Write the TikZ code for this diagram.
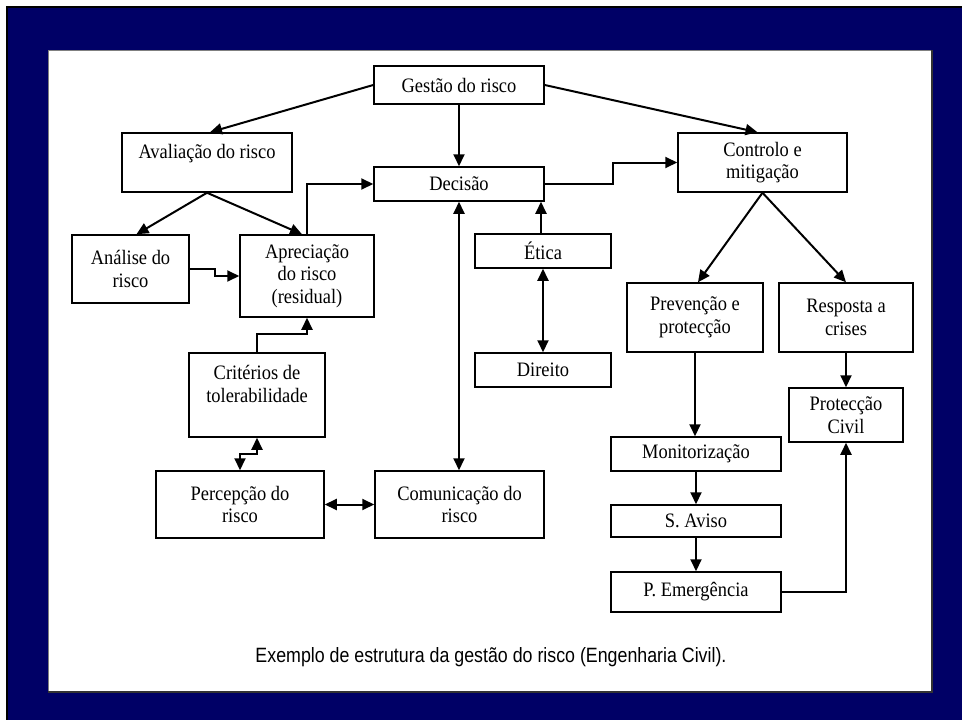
\documentclass[tikz,border=0pt]{standalone}
\usepackage{fontspec}
\setmainfont{Liberation Serif}[FakeStretch=0.9]
\newfontfamily\capfont{Liberation Sans}[FakeStretch=0.86]
\usetikzlibrary{arrows.meta,calc}
\definecolor{navy}{RGB}{0,0,102}
\begin{document}
\begin{tikzpicture}[x=1pt,y=-1pt,
 box/.style={draw=black, line width=1.5pt, fill=white, inner sep=0pt, align=center, font=\fontsize{20.5}{22.5}\selectfont},
 arr/.style={line width=2pt, -{Triangle[length=12pt,width=11pt]}},
 darr/.style={line width=2pt, {Triangle[length=12pt,width=11pt]}-{Triangle[length=12pt,width=11pt]}}]
% background
\fill[white] (0,0) rectangle (962,720);
\fill[black] (6,6) rectangle (962,720);
\fill[navy] (8,8) rectangle (962,720);
\fill[white] (48,50) rectangle (932,692);
\draw[gray, line width=1pt] (48,692) -- (48,50) -- (932,50);
\draw[black!80, line width=1.5pt] (932,50) -- (932,692) -- (48,692);
\useasboundingbox (0,0) rectangle (962,720);
% nodes
\node[box, minimum width=170pt, minimum height=38pt] (ges) at (459,85) {Gestão do risco};
\node[box, minimum width=170pt, minimum height=59pt] (ava) at (207,162.5) {Avaliação do risco\\\mbox{}};
\node[box, minimum width=170pt, minimum height=34pt] (dec) at (459,184) {Decisão};
\node[box, minimum width=117pt, minimum height=68pt] (ana) at (130.5,269) {Análise do\\risco};
\node[box, minimum width=134pt, minimum height=82pt] (apr) at (307,276) {Apreciação\\do risco\\(residual)};
\node[box, minimum width=136pt, minimum height=84pt] (cri) at (257,395) {Critérios de\\tolerabilidade\\\mbox{}};
\node[box, minimum width=168pt, minimum height=67pt] (per) at (240,504.5) {Percepção do\\risco};
\node[box, minimum width=169pt, minimum height=67pt] (com) at (459.5,504.5) {Comunicação do\\risco};
\node[box, minimum width=136pt, minimum height=34pt] (eti) at (543,251) {Ética};
\node[box, minimum width=136pt, minimum height=34pt] (dir) at (543,370) {Direito};
\node[box, minimum width=169pt, minimum height=59pt] (con) at (762.5,162.5) {Controlo e\\mitigação};
\node[box, minimum width=136pt, minimum height=69pt] (pre) at (695,317.5) {Prevenção e\\protecção};
\node[box, minimum width=134pt, minimum height=69pt] (res) at (846,317.5) {Resposta a\\crises};
\node[box, minimum width=170pt, minimum height=34pt] (mon) at (696,454) {Monitorização};
\node[box, minimum width=170pt, minimum height=32pt] (sav) at (696,521) {S. Aviso};
\node[box, minimum width=170pt, minimum height=40pt] (pem) at (696,592) {P. Emergência};
\node[box, minimum width=114pt, minimum height=54pt] (pci) at (846,415) {Protecção\\Civil};
\node[font=\capfont\fontsize{20.7}{22}\selectfont] (cap) at (491,657) {Exemplo de estrutura da gestão do risco (Engenharia Civil).};
% connectors
\draw[arr] (ges.west) -- ([xshift=3pt]ava.north);
\draw[arr] (ges.south) -- (dec.north);
\draw[arr] (ges.east) -- ([xshift=-5pt]con.north);
\draw[arr] (ava.south) -- ([xshift=6pt]ana.north);
\draw[arr] (ava.south) -- ([xshift=-5pt]apr.north);
\draw[arr] (apr.north) |- (dec.west);
\draw[arr] (ana.east) -- ++(25,0) |- (apr.west);
\draw[arr] (cri.north) -- ++(0,-18) -| (apr.south);
\draw[darr] (cri.south) -- ++(0,16) -| (per.north);
\draw[darr] (per.east) -- (com.west);
\draw[darr] (dec.south) -- (dec.south |- com.north);
\draw[arr] ([xshift=-2pt]eti.north) -- ([xshift=-2pt]eti.north |- dec.south);
\draw[darr] (eti.south) -- (dir.north);
\draw[arr] (dec.east) -- ++(68,0) |- (con.west);
\draw[arr] (con.south) -- ([xshift=3pt]pre.north);
\draw[arr] (con.south) -- (res.north);
\draw[arr] (pre.south) -- (pre.south |- mon.north);
\draw[arr] (mon.south) -- (sav.north);
\draw[arr] (sav.south) -- (pem.north);
\draw[arr] (res.south) -- (pci.north);
\draw[arr] (pem.east) -| (pci.south);
\end{tikzpicture}
\end{document}
